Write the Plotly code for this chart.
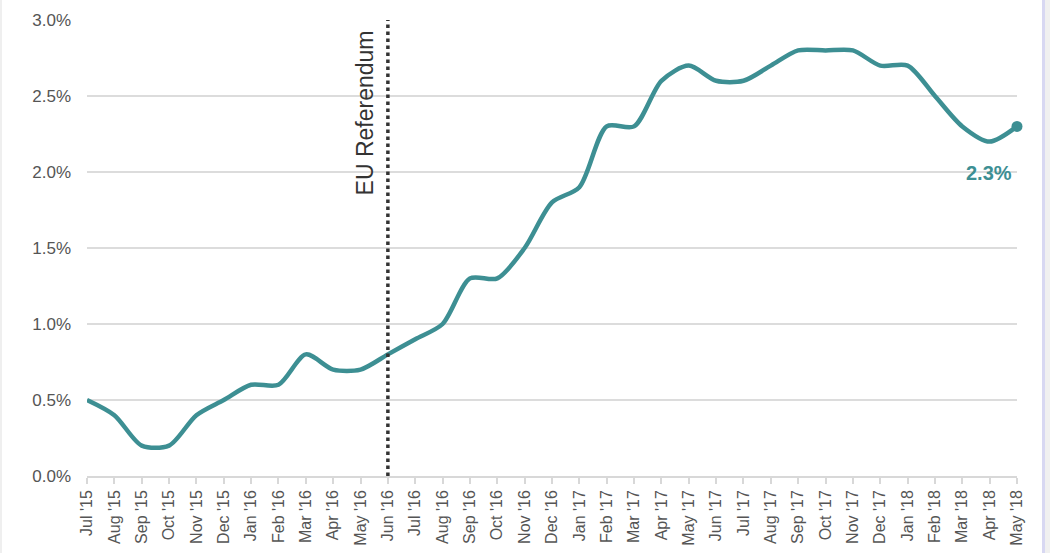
import plotly.graph_objects as go

months = ["Jul '15", "Aug '15", "Sep '15", "Oct '15", "Nov '15", "Dec '15",
          "Jan '16", "Feb '16", "Mar '16", "Apr '16", "May '16", "Jun '16",
          "Jul '16", "Aug '16", "Sep '16", "Oct '16", "Nov '16", "Dec '16",
          "Jan '17", "Feb '17", "Mar '17", "Apr '17", "May '17", "Jun '17",
          "Jul '17", "Aug '17", "Sep '17", "Oct '17", "Nov '17", "Dec '17",
          "Jan '18", "Feb '18", "Mar '18", "Apr '18", "May '18"]
values = [0.5, 0.4, 0.2, 0.2, 0.4, 0.5,
          0.6, 0.6, 0.8, 0.7, 0.7, 0.8,
          0.9, 1.0, 1.3, 1.3, 1.5, 1.8,
          1.9, 2.3, 2.3, 2.6, 2.7, 2.6,
          2.6, 2.7, 2.8, 2.8, 2.8, 2.7,
          2.7, 2.5, 2.3, 2.2, 2.3]
y_ticks = [0.0, 0.5, 1.0, 1.5, 2.0, 2.5, 3.0]
y_tick_labels = ["0.0%", "0.5%", "1.0%", "1.5%", "2.0%", "2.5%", "3.0%"]
event_month = "Jun '16"
event_label = "EU Referendum"

teal = "#3d8f93"
idx = list(range(len(months)))

fig = go.Figure()
fig.add_trace(go.Scatter(
    x=idx, y=values, mode="lines",
    line=dict(color=teal, width=4.5, shape="spline", smoothing=0.8),
    hoverinfo="skip", showlegend=False, cliponaxis=False,
))
fig.add_trace(go.Scatter(
    x=[idx[-1]], y=[values[-1]], mode="markers",
    marker=dict(color=teal, size=11),
    showlegend=False, hoverinfo="skip", cliponaxis=False,
))

ev = months.index(event_month)
fig.add_shape(type="line", x0=ev, x1=ev, y0=0, y1=3.0, xref="x", yref="y",
              line=dict(color="#333333", width=3.5, dash="dot"))
fig.add_annotation(x=ev, y=3.0, xref="x", yref="y", text=event_label,
                   textangle=-90, showarrow=False, xanchor="right", yanchor="top",
                   xshift=-8, yshift=-8,
                   font=dict(family="Liberation Sans, Arial", size=23, color="#333333"))
fig.add_annotation(x=idx[-1], y=values[-1], xref="x", yref="y",
                   text="<b>%.1f%%</b>" % values[-1], showarrow=False,
                   xanchor="right", yanchor="top", xshift=-3, yshift=-34,
                   font=dict(family="Liberation Sans, Arial", size=20, color=teal))

# page borders
for x0, x1, col in [(-0.09355, -0.0914, "#efefef"),
                    (1.02688, 1.03011, "#d8d8f2"),
                    (1.03011, 1.0355, "#f0f0f0")]:
    fig.add_shape(type="rect", xref="paper", yref="paper",
                  x0=x0, x1=x1, y0=-0.17, y1=1.05,
                  line=dict(width=0), fillcolor=col, layer="above")

fig.update_layout(
    width=1050, height=553,
    margin=dict(l=87, r=33, t=20, b=77),
    paper_bgcolor="white", plot_bgcolor="white",
    font=dict(family="Liberation Sans, Arial", color="#555555"),
    xaxis=dict(
        range=[0, len(months) - 1], automargin=False,
        tickmode="array", tickvals=idx, ticktext=months,
        tickangle=-90, tickfont=dict(size=16, color="#555555"),
        showgrid=False, showline=True, linecolor="#d8d8d8", linewidth=1.5,
        ticks="outside", ticklen=6, tickcolor="#d8d8d8", tickwidth=1.5,
        zeroline=False, fixedrange=True,
    ),
    yaxis=dict(
        range=[0, 3.0], automargin=False,
        tickmode="array", tickvals=y_ticks, ticktext=y_tick_labels,
        tickfont=dict(size=17, color="#555555"),
        showgrid=True, gridcolor="#dcdcdc", gridwidth=1.5,
        zeroline=False, showline=False, ticks="", ticklabelstandoff=15,
        fixedrange=True,
    ),
)

fig.write_html("out.html", config={"displayModeBar": False},
               post_script="document.body.style.margin='0';document.body.style.overflow='hidden';")
